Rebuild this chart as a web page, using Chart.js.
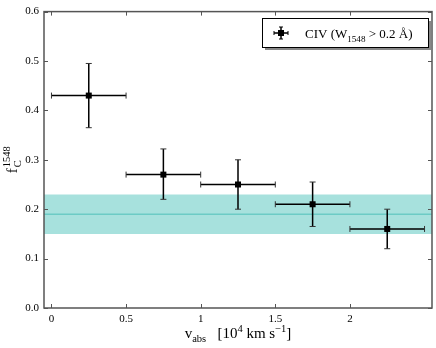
<!DOCTYPE html>
<html>
<head>
<meta charset="utf-8">
<script src="https://cdn.jsdelivr.net/npm/chart.js@4/dist/chart.umd.min.js"></script>
<style>
html,body{margin:0;padding:0;background:#fff;}
#wrap{width:436px;height:348px;}
</style>
</head>
<body>
<div id="wrap"><canvas id="c" width="436" height="348"></canvas></div>
<script>
// ---- data ----
const xCenters = [0.25, 0.75, 1.25, 1.75, 2.25];
const xErr     = [0.25, 0.25, 0.25, 0.25, 0.25];
const fValues  = [0.43, 0.27, 0.25, 0.21, 0.16];
const fErrUp   = [0.065, 0.052, 0.05, 0.045, 0.04];
const fErrLo   = [0.065, 0.05, 0.05, 0.045, 0.04];
const bandLow  = 0.15;
const bandHigh = 0.23;
const bandMean = 0.19;
const xRange   = [-0.05, 2.55];
const xTicks   = [0, 0.5, 1, 1.5, 2];
const xTickLabels = ['0', '0.5', '1', '1.5', '2'];
const yTicks   = [0, 0.1, 0.2, 0.3, 0.4, 0.5, 0.6];
const yTickLabels = ['0.0', '0.1', '0.2', '0.3', '0.4', '0.5', '0.6'];

const SERIF = '"Liberation Serif", "DejaVu Serif", serif';

function drawRich(ctx, parts, x, y, size, align) {
  // parts: [{t, s}] s: 0 normal, -1 sub, 1 sup
  const widths = parts.map(p => {
    ctx.font = (p.s ? size * 0.7 : size) + 'px ' + SERIF;
    return ctx.measureText(p.t).width;
  });
  const total = widths.reduce((a, b) => a + b, 0);
  let cx = align === 'center' ? x - total / 2 : x;
  ctx.textBaseline = 'alphabetic';
  ctx.textAlign = 'left';
  parts.forEach((p, i) => {
    ctx.font = (p.s ? size * 0.7 : size) + 'px ' + SERIF;
    const dy = p.s === -1 ? size * 0.28 : (p.s === 1 ? -size * 0.4 : 0);
    ctx.fillText(p.t, cx, y + dy);
    cx += widths[i];
  });
}

const framePlugin = {
  id: 'frame',
  afterDatasetsDraw(chart) {
    const ctx = chart.ctx;
    const xs = chart.scales.x, ys = chart.scales.y;
    const a = chart.chartArea;
    ctx.save();
    // error bars
    ctx.strokeStyle = '#000';
    ctx.lineWidth = 1.5;
    for (let i = 0; i < xCenters.length; i++) {
      const px = xs.getPixelForValue(xCenters[i]);
      const py = ys.getPixelForValue(fValues[i]);
      const x0 = xs.getPixelForValue(xCenters[i] - xErr[i]);
      const x1 = xs.getPixelForValue(xCenters[i] + xErr[i]);
      const y0 = ys.getPixelForValue(fValues[i] + fErrUp[i]);
      const y1 = ys.getPixelForValue(fValues[i] - fErrLo[i]);
      ctx.beginPath();
      ctx.moveTo(x0, py); ctx.lineTo(x1, py);
      ctx.moveTo(px, y0); ctx.lineTo(px, y1);
      ctx.stroke();
      ctx.lineWidth = 1;
      ctx.strokeStyle = '#333';
      ctx.beginPath();
      ctx.moveTo(x0, py - 3); ctx.lineTo(x0, py + 3);
      ctx.moveTo(x1, py - 3); ctx.lineTo(x1, py + 3);
      ctx.moveTo(px - 3, y0); ctx.lineTo(px + 3, y0);
      ctx.moveTo(px - 3, y1); ctx.lineTo(px + 3, y1);
      ctx.stroke();
      ctx.lineWidth = 1.5;
      ctx.strokeStyle = '#000';
      ctx.fillStyle = '#000';
      ctx.fillRect(px - 3, py - 3, 6, 6);
    }
    // frame
    ctx.strokeStyle = '#555';
    ctx.lineWidth = 1.5;
    ctx.strokeRect(a.left, a.top, a.right - a.left, a.bottom - a.top);
    // inward ticks
    ctx.lineWidth = 1;
    ctx.strokeStyle = '#555';
    ctx.beginPath();
    xTicks.forEach(v => {
      const px = Math.round(xs.getPixelForValue(v)) + 0.5;
      ctx.moveTo(px, a.bottom); ctx.lineTo(px, a.bottom - 4);
      ctx.moveTo(px, a.top); ctx.lineTo(px, a.top + 4);
    });
    yTicks.forEach(v => {
      const py = Math.round(ys.getPixelForValue(v)) + 0.5;
      ctx.moveTo(a.left, py); ctx.lineTo(a.left + 4, py);
      ctx.moveTo(a.right, py); ctx.lineTo(a.right - 4, py);
    });
    ctx.stroke();

    // legend
    const lx = 262, ly = 18, lw = 166, lh = 29;
    ctx.fillStyle = '#888';
    ctx.fillRect(lx + 3, ly + 3, lw, lh);
    ctx.fillStyle = '#fff';
    ctx.fillRect(lx, ly, lw, lh);
    ctx.strokeStyle = '#000';
    ctx.lineWidth = 1;
    ctx.strokeRect(lx + 0.5, ly + 0.5, lw, lh);
    const sx = 281, sy = 33;
    ctx.lineWidth = 1.5;
    ctx.beginPath();
    ctx.moveTo(sx - 7, sy); ctx.lineTo(sx + 7, sy);
    ctx.moveTo(sx, sy - 6); ctx.lineTo(sx, sy + 6);
    ctx.stroke();
    ctx.lineWidth = 1;
    ctx.beginPath();
    ctx.moveTo(sx - 7, sy - 2); ctx.lineTo(sx - 7, sy + 2);
    ctx.moveTo(sx + 7, sy - 2); ctx.lineTo(sx + 7, sy + 2);
    ctx.moveTo(sx - 2, sy - 6); ctx.lineTo(sx + 2, sy - 6);
    ctx.moveTo(sx - 2, sy + 6); ctx.lineTo(sx + 2, sy + 6);
    ctx.stroke();
    ctx.fillStyle = '#000';
    ctx.fillRect(sx - 3, sy - 3, 6, 6);
    drawRich(ctx, [{t: 'CIV (W', s: 0}, {t: '1548', s: -1}, {t: ' > 0.2 Å)', s: 0}], 305, 38, 13, 'left');

    // x title
    ctx.fillStyle = '#000';
    drawRich(ctx, [{t: 'v', s: 0}, {t: 'abs', s: -1}, {t: '   [10', s: 0}, {t: '4', s: 1},
                   {t: ' km s', s: 0}, {t: '\u22121', s: 1}, {t: ']', s: 0}], (a.left + a.right) / 2, 338, 15, 'center');

    // y title (rotated)
    ctx.translate(17, (a.top + a.bottom) / 2);
    ctx.rotate(-Math.PI / 2);
    ctx.font = '15px ' + SERIF;
    const fw = ctx.measureText('f').width;
    ctx.font = '10.5px ' + SERIF;
    const sw = ctx.measureText('1548').width;
    const total = fw + sw + 1;
    let cx = -total / 2;
    ctx.textAlign = 'left';
    ctx.textBaseline = 'alphabetic';
    ctx.font = '15px ' + SERIF;
    ctx.fillText('f', cx, 0);
    cx += fw + 1;
    ctx.font = '10.5px ' + SERIF;
    ctx.fillText('C', cx, 4);
    ctx.fillText('1548', cx, -7);
    ctx.restore();
  }
};

const ctx = document.getElementById('c').getContext('2d');
new Chart(ctx, {
  type: 'scatter',
  data: {
    datasets: [
      {
        label: 'CIV',
        data: xCenters.map((x, i) => ({x: x, y: fValues[i]})),
        pointStyle: 'rect', pointRadius: 0, showLine: false,
        backgroundColor: '#000', borderColor: '#000', order: 0
      },
      {
        label: 'mean',
        data: [{x: xRange[0], y: bandMean}, {x: xRange[1], y: bandMean}],
        showLine: true, pointRadius: 0, borderColor: '#6ccbc5', borderWidth: 1.5,
        fill: false, order: 1
      },
      {
        label: 'band',
        data: [{x: xRange[0], y: bandHigh}, {x: xRange[1], y: bandHigh}],
        showLine: true, pointRadius: 0, borderWidth: 0, borderColor: 'rgba(0,0,0,0)',
        backgroundColor: 'rgba(80,196,188,0.5)',
        fill: {value: bandLow}, order: 2
      }
    ]
  },
  options: {
    responsive: false,
    animation: false,
    events: [],
    layout: {padding: {top: 8, right: 4, left: 0, bottom: 0}},
    plugins: {legend: {display: false}, tooltip: {enabled: false}, filler: {propagate: false}},
    scales: {
      x: {
        type: 'linear', min: xRange[0], max: xRange[1],
        afterBuildTicks: s => { s.ticks = xTicks.map(v => ({value: v})); },
        afterFit: s => { s.height = 40; },
        grid: {display: false, drawTicks: false},
        border: {display: false},
        ticks: {
          padding: 5, color: '#000', maxRotation: 0,
          font: {family: SERIF, size: 11},
          callback: (v) => { const i = xTicks.indexOf(v); return i >= 0 ? xTickLabels[i] : ''; }
        }
      },
      y: {
        type: 'linear', min: 0, max: 0.6,
        afterBuildTicks: s => { s.ticks = yTicks.map(v => ({value: v})); },
        afterFit: s => { s.width = 44; },
        grid: {display: false, drawTicks: false},
        border: {display: false},
        ticks: {
          padding: 5, color: '#000',
          font: {family: SERIF, size: 11},
          callback: (v) => { const i = yTicks.findIndex(t => Math.abs(t - v) < 1e-9); return i >= 0 ? yTickLabels[i] : ''; }
        }
      }
    }
  },
  plugins: [framePlugin]
});
</script>
</body>
</html>
